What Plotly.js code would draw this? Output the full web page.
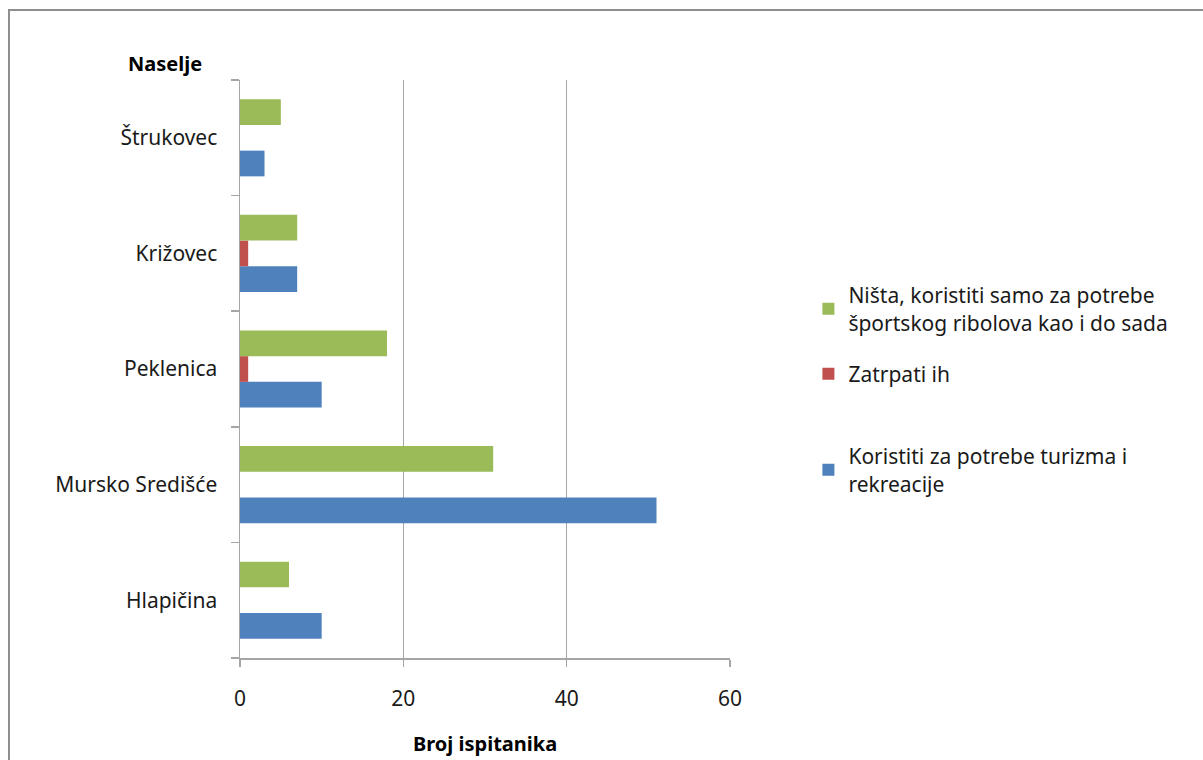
<!DOCTYPE html>
<html>
<head>
<meta charset="utf-8">
<script src="https://cdn.plot.ly/plotly-3.0.1.min.js"></script>
<style>
html,body{margin:0;padding:0;background:#fff;}
#wrap{position:relative;width:1203px;height:760px;overflow:hidden;}
#chart{position:absolute;left:0;top:0;width:1203px;height:760px;}
#frame{position:absolute;left:8px;top:9px;width:1400px;height:900px;border-top:2px solid #8e8e8e;border-left:2px solid #8e8e8e;pointer-events:none;}
</style>
</head>
<body>
<div id="wrap"><div id="chart"></div><div id="frame"></div></div>
<script>
const categories = ["Hlapičina", "Mursko Središće", "Peklenica", "Križovec", "Štrukovec"];
const seriesNames = [
  "Koristiti za potrebe turizma i<br>rekreacije",
  "Zatrpati ih",
  "Ništa, koristiti samo za potrebe<br>športskog ribolova kao i do sada"
];
const turizam = [10, 51, 10, 7, 3];
const zatrpati = [0, 0, 1, 1, 0];
const nista = [6, 31, 18, 7, 5];
const xTicks = [0, 20, 40, 60];
const colors = ["#4f81bd", "#c0504d", "#9bbb59"];
const FONT = "Noto Sans, Open Sans, sans-serif";

const values = [turizam, zatrpati, nista];
const legendIds = ["legend", "legend2", "legend3"];
const data = values.map((v, i) => ({
  type: "bar",
  orientation: "h",
  y: categories,
  x: v,
  name: seriesNames[i],
  legend: legendIds[i],
  marker: {color: colors[i]},
  hoverinfo: "x+y"
}));

// legend vertical centres in pixels (plot area spans y 80..658)
const legendCentresPx = [470, 374, 309];
function legendBox(yc) {
  return {
    x: 1.16, xanchor: "left", y: (658 - yc) / 578, yanchor: "middle",
    font: {family: FONT, size: 21, color: "#1a1a1a"},
    itemwidth: 30, bgcolor: "rgba(0,0,0,0)"
  };
}

const layout = {
  width: 1203, height: 760,
  margin: {l: 240, r: 473, t: 80, b: 102},
  paper_bgcolor: "#fff", plot_bgcolor: "#fff",
  font: {family: FONT, size: 21, color: "#1a1a1a"},
  barmode: "group",
  bargap: 0.333,
  bargroupgap: 0,
  showlegend: true,
  legend: legendBox(legendCentresPx[0]),
  legend2: legendBox(legendCentresPx[1]),
  legend3: legendBox(legendCentresPx[2]),
  xaxis: {
    range: [0, 60],
    tickvals: xTicks,
    ticktext: xTicks.map(String),
    showgrid: true, gridcolor: "#a6a6a6", gridwidth: 1.5,
    showline: true, linecolor: "#a6a6a6", linewidth: 1.5,
    ticks: "outside", ticklen: 7, tickcolor: "#a6a6a6", tickwidth: 1.5,
    ticklabelstandoff: 14,
    zeroline: false,
    fixedrange: true
  },
  yaxis: {
    type: "category",
    categoryorder: "array", categoryarray: categories,
    showline: true, linecolor: "#a6a6a6", linewidth: 1.5,
    ticks: "outside", ticklen: 8, tickcolor: "#a6a6a6", tickwidth: 1.5,
    tickson: "boundaries",
    ticklabelstandoff: 17,
    showgrid: false, zeroline: false,
    fixedrange: true
  },
  annotations: [
    {text: "<b>Naselje</b>", xref: "paper", yref: "paper", x: (165 - 240) / 490, y: (658 - 63) / 578,
     xanchor: "center", yanchor: "middle", showarrow: false, font: {family: FONT, size: 20, color: "#000"}},
    {text: "<b>Broj ispitanika</b>", xref: "paper", yref: "paper", x: (485 - 240) / 490, y: (658 - 743) / 578,
     xanchor: "center", yanchor: "middle", showarrow: false, font: {family: FONT, size: 20, color: "#000"}}
  ]
};

Plotly.newPlot("chart", data, layout, {displayModeBar: false, staticPlot: true});
</script>
</body>
</html>
